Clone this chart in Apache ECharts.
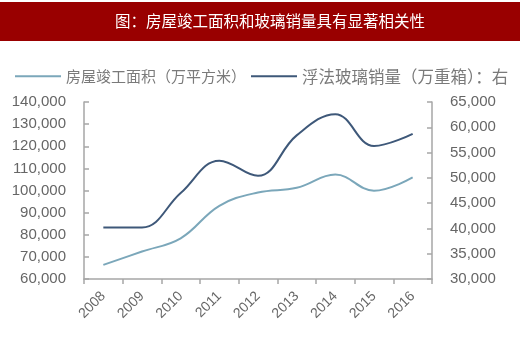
<!DOCTYPE html>
<html>
<head>
<meta charset="utf-8">
<script src="https://cdn.jsdelivr.net/npm/echarts@6/dist/echarts.min.js"></script>
<style>
html,body{margin:0;padding:0;background:#fff;}
#c{width:520px;height:337px;}
</style>
</head>
<body>
<div id="c"></div>
<script>
var titleText = '图：房屋竣工面积和玻璃销量具有显著相关性';
var years = ['2008','2009','2010','2011','2012','2013','2014','2015','2016'];
var areaName = '房屋竣工面积（万平方米）';
var glassName = '浮法玻璃销量（万重箱）：右';
var areaValues = [66400, 72400, 78400, 93100, 99100, 101200, 107200, 99900, 105900];
var glassValues = [40200, 40200, 47000, 53400, 50400, 58400, 62600, 56300, 58700];

var chart = echarts.init(document.getElementById('c'), null, {renderer:'canvas'});
var labelColor = '#666666';
var axisColor = '#a6a6a6';
var legendColor = '#7a7a7a';
chart.setOption({
  animation: false,
  backgroundColor: '#ffffff',
  graphic: [
    {type:'rect', shape:{x:0, y:2, width:520, height:39}, style:{fill:'#990000'}, z:0},
    {type:'text', x:270, y:21, style:{text:titleText, fill:'#ffffff', align:'center', verticalAlign:'middle', font:'normal 15.5px "Noto Sans CJK SC"'}, z:1}
  ],
  legend: {
    left: 10, top: 63,
    itemWidth: 46, itemHeight: 10, itemGap: 5,
    icon: 'path://M0,4 L46,4 L46,6 L0,6 Z',
    textStyle: {fontSize: 15, color: legendColor, fontFamily: '"Noto Sans CJK SC"', padding:[0,0,0,0]},
    data: [
      {name: areaName, textStyle: {fontSize: 15, color: legendColor}},
      {name: glassName, textStyle: {fontSize: 16.5, color: legendColor}}
    ]
  },
  grid: {left: 84, right: 88, top: 102, bottom: 58, containLabel: false},
  xAxis: {
    type: 'category',
    data: years,
    boundaryGap: true,
    axisLine: {lineStyle: {color: axisColor, width: 1.5}},
    axisTick: {show: true, inside: false, length: 5, alignWithLabel: false, lineStyle:{color: axisColor, width:1.5}},
    axisLabel: {rotate: 45, fontSize: 14, color: labelColor, margin: 15, fontFamily: 'Liberation Sans'}
  },
  yAxis: [
    {
      type: 'value', min: 60000, max: 140000, interval: 10000, position: 'left',
      axisLine: {show: true, lineStyle: {color: axisColor, width: 1.5}},
      axisTick: {show: true, inside: true, length: 5, lineStyle:{color: axisColor, width:1.5}},
      splitLine: {show: false},
      axisLabel: {fontSize: 15, color: labelColor, margin: 18, fontFamily: 'Liberation Sans',
        formatter: function(v){ return v.toLocaleString('en-US'); }}
    },
    {
      type: 'value', min: 30000, max: 65000, interval: 5000, position: 'right',
      axisLine: {show: true, lineStyle: {color: axisColor, width: 1.5}},
      axisTick: {show: true, inside: true, length: 5, lineStyle:{color: axisColor, width:1.5}},
      splitLine: {show: false},
      axisLabel: {fontSize: 15, color: labelColor, margin: 18, fontFamily: 'Liberation Sans',
        formatter: function(v){ return v.toLocaleString('en-US'); }}
    }
  ],
  series: [
    {
      name: areaName, type: 'line', yAxisIndex: 0, data: areaValues,
      smooth: 0.4, symbol: 'none',
      lineStyle: {color: '#7ba7ba', width: 2},
      itemStyle: {color: '#7ba7ba'}
    },
    {
      name: glassName, type: 'line', yAxisIndex: 1, data: glassValues,
      smooth: 0.4, symbol: 'none',
      lineStyle: {color: '#3e5879', width: 2},
      itemStyle: {color: '#3e5879'}
    }
  ]
});
</script>
</body>
</html>
